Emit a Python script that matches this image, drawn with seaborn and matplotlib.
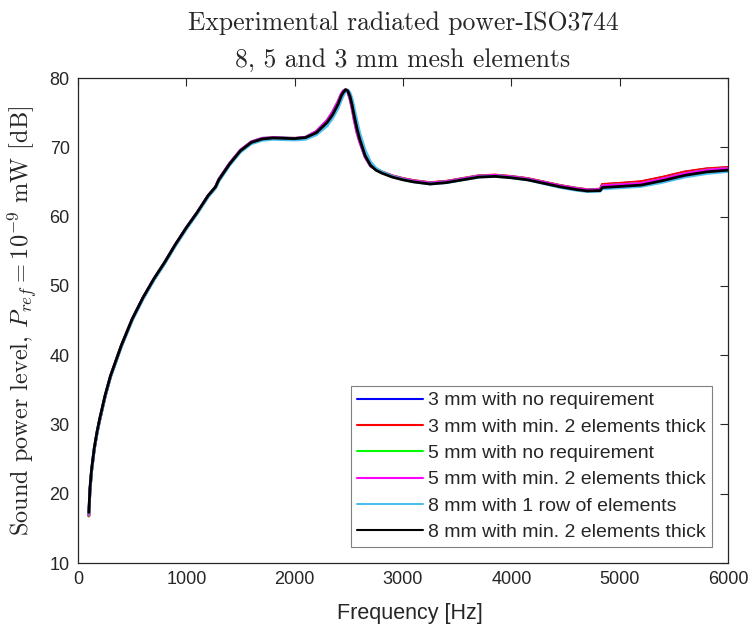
import matplotlib
matplotlib.use("Agg")
import matplotlib.pyplot as plt
import seaborn as sns
import pandas as pd

freq = [100, 110, 125, 150, 175, 200, 250, 300, 400, 500, 600, 700,
        800, 900, 1000, 1100, 1200, 1270, 1300, 1400, 1500, 1600,
        1700, 1800, 1900, 2000, 2100, 2200, 2300, 2350, 2400, 2430,
        2450, 2470, 2490, 2510, 2530, 2550, 2575, 2600, 2650, 2700,
        2750, 2800, 2900, 3000, 3100, 3250, 3400, 3550, 3700, 3850,
        4000, 4150, 4300, 4450, 4600, 4700, 4820, 4840, 5000, 5200,
        5400, 5600, 5800, 6000]

lvl_3mm_noreq = [16.8, 20.3, 23.2, 26.4, 28.7, 30.6, 34.0, 36.9, 41.3, 45.1, 48.2, 50.9,
                 53.3, 55.9, 58.3, 60.5, 62.9, 64.2, 65.3, 67.6, 69.5, 70.7,
                 71.2, 71.35, 71.3, 71.25, 71.4, 72.1, 73.6, 74.7, 76.3, 77.5,
                 78.0, 78.3, 78.1, 77.3, 76.0, 74.4, 72.6, 71.1, 68.8, 67.5,
                 66.85, 66.45, 65.85, 65.45, 65.15, 64.85, 65.05, 65.45, 65.85, 65.95,
                 65.75, 65.45, 64.95, 64.45, 64.05, 63.85, 63.9, 64.6, 64.75, 65.0,
                 65.65, 66.4, 66.85, 67.05]
lvl_3mm_min2 = [16.8, 20.3, 23.2, 26.4, 28.7, 30.6, 34.0, 36.9, 41.3, 45.1, 48.2, 50.9,
                53.3, 55.9, 58.3, 60.5, 62.9, 64.2, 65.3, 67.6, 69.5, 70.7,
                71.2, 71.35, 71.3, 71.25, 71.4, 72.1, 73.6, 74.7, 76.3, 77.5,
                78.0, 78.3, 78.1, 77.3, 76.0, 74.4, 72.6, 71.1, 68.8, 67.5,
                66.85, 66.5, 65.9, 65.5, 65.2, 64.9, 65.1, 65.5, 65.9, 66.0,
                65.8, 65.5, 65.0, 64.5, 64.1, 63.9, 63.95, 64.65, 64.8, 65.05,
                65.7, 66.45, 66.9, 67.1]
lvl_5mm_noreq = [16.9, 20.4, 23.3, 26.5, 28.8, 30.7, 34.1, 37.0, 41.4, 45.2, 48.3, 51.0,
                 53.4, 56.0, 58.4, 60.6, 63.0, 64.3, 65.4, 67.7, 69.6, 70.8,
                 71.3, 71.4, 71.35, 71.3, 71.45, 72.3, 73.9, 75.1, 76.6, 77.7,
                 78.15, 78.3, 78.0, 77.0, 75.6, 73.9, 72.1, 70.8, 68.6, 67.3,
                 66.8, 66.45, 65.85, 65.45, 65.15, 64.85, 65.05, 65.45, 65.85, 65.95,
                 65.75, 65.45, 64.95, 64.45, 64.05, 63.85, 63.9, 64.45, 64.6, 64.8,
                 65.45, 66.2, 66.7, 66.95]
lvl_5mm_min2 = [17.0, 20.5, 23.3, 26.5, 28.8, 30.7, 34.1, 37.0, 41.4, 45.2, 48.3, 51.0,
                53.4, 56.0, 58.4, 60.6, 63.0, 64.3, 65.4, 67.7, 69.6, 70.8,
                71.3, 71.4, 71.35, 71.3, 71.45, 72.3, 73.9, 75.1, 76.6, 77.7,
                78.15, 78.3, 78.0, 77.0, 75.6, 73.9, 72.1, 70.8, 68.6, 67.3,
                66.8, 66.45, 65.85, 65.45, 65.15, 64.85, 65.05, 65.45, 65.85, 65.95,
                65.75, 65.45, 64.95, 64.45, 64.05, 63.85, 63.9, 64.45, 64.6, 64.8,
                65.45, 66.2, 66.7, 66.95]
lvl_8mm_1row = [17.2, 20.5, 23.2, 26.4, 28.7, 30.6, 34.0, 36.8, 41.2, 45.0, 48.1, 50.8,
                53.2, 55.8, 58.2, 60.4, 62.8, 64.1, 65.1, 67.4, 69.3, 70.5,
                71.0, 71.15, 71.1, 71.05, 71.15, 71.8, 73.1, 74.2, 75.6, 76.8,
                77.5, 78.05, 78.3, 77.9, 77.0, 75.6, 73.8, 72.1, 69.6, 67.9,
                67.0, 66.5, 65.8, 65.35, 65.0, 64.7, 64.9, 65.3, 65.7, 65.8,
                65.6, 65.3, 64.75, 64.2, 63.8, 63.6, 63.65, 64.0, 64.15, 64.35,
                64.95, 65.7, 66.2, 66.5]
lvl_8mm_min2 = [17.3, 20.8, 23.5, 26.6, 28.9, 30.8, 34.2, 37.0, 41.4, 45.2, 48.3, 51.0,
                53.4, 56.0, 58.4, 60.6, 63.0, 64.3, 65.3, 67.6, 69.5, 70.7,
                71.2, 71.35, 71.3, 71.25, 71.4, 72.1, 73.6, 74.7, 76.2, 77.4,
                77.95, 78.3, 78.15, 77.4, 76.1, 74.5, 72.7, 71.2, 68.8, 67.4,
                66.7, 66.3, 65.7, 65.3, 65.0, 64.7, 64.9, 65.3, 65.7, 65.8,
                65.6, 65.3, 64.8, 64.3, 63.9, 63.7, 63.75, 64.2, 64.35, 64.55,
                65.2, 65.95, 66.45, 66.7]

series_names = ["3 mm with no requirement", "3 mm with min. 2 elements thick",
                "5 mm with no requirement", "5 mm with min. 2 elements thick",
                "8 mm with 1 row of elements", "8 mm with min. 2 elements thick"]
series_values = [lvl_3mm_noreq, lvl_3mm_min2, lvl_5mm_noreq, lvl_5mm_min2,
                 lvl_8mm_1row, lvl_8mm_min2]
series_colors = ["#0000ff", "#ff0000", "#00ff00", "#ff00ff", "#4dbeee", "#000000"]

x_ticks = [0, 1000, 2000, 3000, 4000, 5000, 6000]
y_ticks = [10, 20, 30, 40, 50, 60, 70, 80]

rows = []
for name, vals in zip(series_names, series_values):
    for f, v in zip(freq, vals):
        rows.append({"Frequency": f, "Level": v, "Series": name})
df = pd.DataFrame(rows)

sns.set_style("white")
plt.rcParams["font.family"] = ["Liberation Sans", "DejaVu Sans"]
plt.rcParams["mathtext.fontset"] = "cm"

fig = plt.figure(figsize=(7.51, 6.33), dpi=100)
ax = fig.add_axes([78 / 751, 1 - 563 / 633, 650 / 751, 485 / 633])

sns.lineplot(data=df, x="Frequency", y="Level", hue="Series", hue_order=series_names,
             palette=dict(zip(series_names, series_colors)), estimator=None,
             sort=False, linewidth=2.0, ax=ax)

ax.set_xlim(0, 6000)
ax.set_ylim(10, 80)
ax.set_xticks(x_ticks)
ax.set_yticks(y_ticks)
ax.tick_params(direction="in", length=6, width=0.8, top=True, right=True,
               labelsize=13, colors="#262626", pad=6)
for s in ax.spines.values():
    s.set_color("#262626")
    s.set_linewidth(0.9)

ax.set_xlabel("Frequency [Hz]", fontsize=15.5, color="#262626")
ax.xaxis.set_label_coords(0.51, -0.083)
ax.set_ylabel(r"Sound power level, $P_{ref}=10^{-9}$ mW [dB]", fontsize=17.5,
              family="cmr10", color="#262626")
ax.yaxis.set_label_coords(-0.058, 0.499)
ax.set_title("Experimental radiated power-ISO3744\n8, 5 and 3 mm mesh elements",
             fontsize=18.5, family="cmr10", linespacing=1.7, pad=8)

leg = ax.legend(loc="lower right", bbox_to_anchor=(0.975, 0.033), borderaxespad=0,
                fontsize=14, frameon=True, fancybox=False, edgecolor="#808080",
                framealpha=1, handlelength=3.4, handletextpad=0.25,
                labelspacing=0.45, borderpad=0.3)
leg.get_frame().set_linewidth(0.8)
for line in leg.get_lines():
    line.set_linewidth(1.5)

fig.savefig("out.png", dpi=100)
